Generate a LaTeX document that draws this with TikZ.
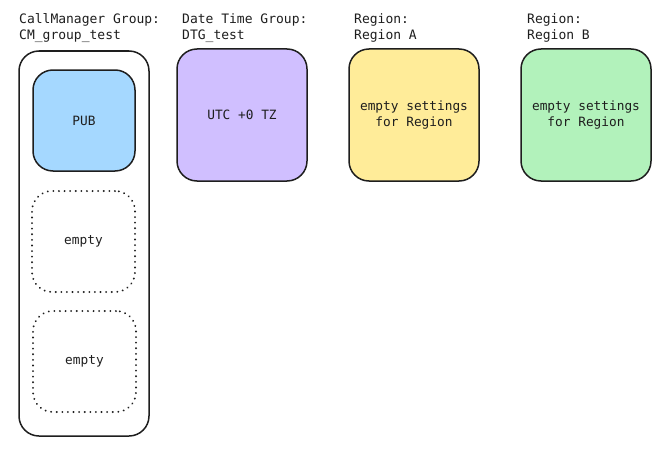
\documentclass[tikz,border=0pt]{standalone}
\usepackage{fontspec}
\setmonofont{DejaVu Sans Mono}
\definecolor{inkgray}{HTML}{1E1E1E}
\definecolor{pubblue}{HTML}{A5D8FF}
\definecolor{dtgviolet}{HTML}{D0BFFF}
\definecolor{regyellow}{HTML}{FFEC99}
\definecolor{reggreen}{HTML}{B2F2BB}
\tikzset{
  card/.style={draw=inkgray, line width=1.5pt, rounded corners=20pt, inner sep=0pt, outer sep=0pt,
    font=\ttfamily\fontsize{12.8}{16}\selectfont, text=inkgray, align=center},
  slotbox/.style={card, draw=inkgray, line width=2pt, dash pattern=on 0.1pt off 5.5pt, line cap=round, fill=none},
  caption/.style={anchor=north west, inner sep=0pt, align=left, text=inkgray,
    font=\ttfamily\fontsize{13}{16}\selectfont}
}
\begin{document}
\begin{tikzpicture}[x=1pt,y=-1pt]

	%Background
	\useasboundingbox (0,0) rectangle (668,452);
	\fill[white] (0,0) rectangle (668,452);

	%Captions
	\node[caption] (cmcap) at (19,13) {CallManager Group:\\CM\_group\_test};
	\node[caption] (dtgcap) at (182,13) {Date Time Group:\\DTG\_test};
	\node[caption] (racap) at (354,13) {Region:\\Region A};
	\node[caption] (rbcap) at (527,13) {Region:\\Region B};

	%CallManager group
	\node[card, minimum width=130pt, minimum height=385pt] (cmgroup) at (84,243.5) {};
	\node[card, fill=pubblue, minimum width=102pt, minimum height=101pt] (pub) at (84,120.5) {\raisebox{-1.5pt}{PUB}};
	\node[slotbox, minimum width=103pt, minimum height=101pt] (slota) at (83.5,241.5) {\raisebox{-1.5pt}{empty}};
	\node[slotbox, minimum width=103pt, minimum height=101pt] (slotb) at (84.5,361.5) {\raisebox{-1.5pt}{empty}};

	%Date time group
	\node[card, fill=dtgviolet, minimum width=130pt, minimum height=132pt] (dtg) at (242,115) {UTC +0 TZ};

	%Regions
	\node[card, fill=regyellow, minimum width=130pt, minimum height=132pt] (rega) at (414,115) {empty settings\\for Region};
	\node[card, fill=reggreen, minimum width=130pt, minimum height=132pt] (regb) at (586,115) {empty settings\\for Region};

\end{tikzpicture}
\end{document}
